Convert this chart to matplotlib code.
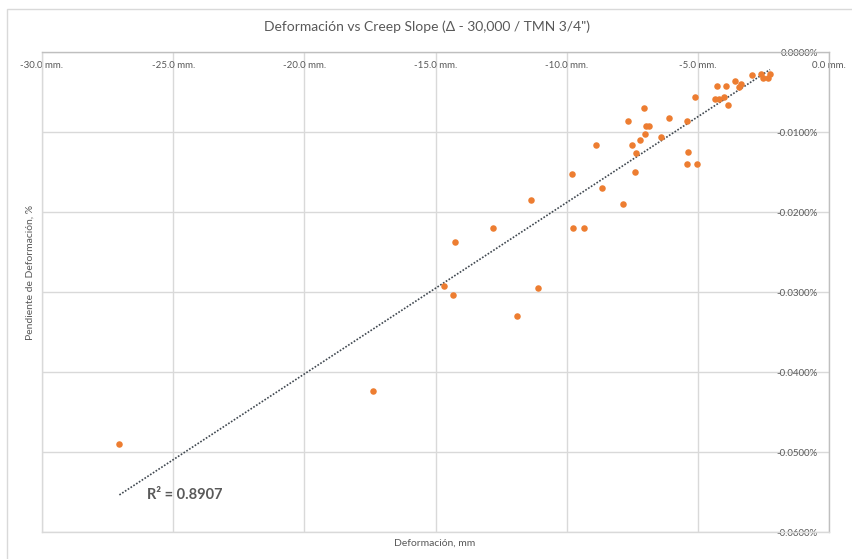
import numpy as np
import matplotlib.pyplot as plt
from matplotlib.patches import Rectangle

plt.rcParams['font.family'] = ['Lato', 'DejaVu Sans']

# deformacion (mm) and creep slope (%)
deform = [-27.05, -17.4, -14.68, -14.34, -14.27, -12.8, -11.88, -11.35, -11.1,
          -9.78, -9.76, -9.35, -8.9, -8.64, -7.86, -7.65, -7.52, -7.40, -7.37,
          -7.20, -7.06, -7.0, -6.98, -6.88, -6.42, -6.1, -5.41, -5.39, -5.42,
          -5.05, -5.10, -4.33, -4.2, -4.02, -4.27, -3.92, -3.84, -3.58, -3.44,
          -3.36, -2.94, -2.60, -2.53, -2.32, -2.25]
slope = [-0.0490, -0.0424, -0.0293, -0.0304, -0.0237, -0.0220, -0.0330, -0.0185,
         -0.0295, -0.0153, -0.0220, -0.0220, -0.0116, -0.0170, -0.0190, -0.0086,
         -0.0116, -0.0150, -0.0126, -0.0110, -0.0070, -0.0103, -0.0093, -0.0093,
         -0.0106, -0.0083, -0.0086, -0.0125, -0.0140, -0.0140, -0.0056, -0.0059,
         -0.0059, -0.0056, -0.0043, -0.0043, -0.0066, -0.0036, -0.0044, -0.0040,
         -0.0029, -0.0027, -0.0032, -0.0032, -0.0027]

x_ticks = [-30, -25, -20, -15, -10, -5, 0]
y_ticks = [-0.06, -0.05, -0.04, -0.03, -0.02, -0.01, 0.0]

grey = '#595959'

fig = plt.figure(figsize=(8.52, 5.59), dpi=100)
ax = fig.add_axes([42/852, 1-532/559, (829-42)/852, (532-52)/559])

# outer chart border
fig.patches.append(Rectangle((7/852, -0.1), 1.2, 1-9/559+0.1, transform=fig.transFigure,
                             fill=False, edgecolor='#d9d9d9', linewidth=1))

ax.scatter(deform, slope, s=22, color='#ED7D31', zorder=3, linewidths=0)

# linear trend
coef = np.polyfit(deform, slope, 1)
xs = np.array([min(deform), max(deform)])
ax.plot(xs, np.polyval(coef, xs), linestyle=(0, (1, 1)), color='#404850',
        linewidth=1.2, zorder=2)

ax.set_xlim(-30, 0)
ax.set_ylim(-0.06, 0)
ax.set_xticks(x_ticks)
ax.set_xticklabels(['%.1f mm.' % v for v in x_ticks])
ax.set_yticks(y_ticks)
ax.set_yticklabels(['%.4f%%' % v for v in y_ticks], ha='right')

ax.tick_params(axis='x', bottom=False, labelbottom=False, top=True, labeltop=True,
               length=0, pad=-13, labelsize=7, labelcolor=grey)
ax.tick_params(axis='y', left=False, labelleft=False, right=True, labelright=True,
               length=0, pad=-8, labelsize=7, labelcolor=grey)
for lbl in ax.get_yticklabels():
    lbl.set_horizontalalignment('right')

ax.grid(True, color='#d9d9d9', linewidth=1)
ax.set_axisbelow(True)
for side in ['left', 'bottom']:
    ax.spines[side].set_color('#d9d9d9')
for side in ['top', 'right']:
    ax.spines[side].set_color('#bfbfbf')
for sp in ax.spines.values():
    sp.set_linewidth(1)

fig.text(427/852, 1-27/559, 'Deformación vs Creep Slope (Δ - 30,000 / TMN 3/4")',
         ha='center', va='center', fontsize=10, color=grey)
fig.text(435/852, 1-543/559, 'Deformación, mm', ha='center', va='center',
         fontsize=7.5, color=grey)
fig.text(30/852, 1-272/559, 'Pendiente de Deformación, %', ha='center', va='center',
         rotation=90, fontsize=7.5, color=grey)
fig.text(147/852, 1-495/559, 'R² = 0.8907', ha='left', va='center',
         fontsize=10.5, fontweight='bold', color=grey)

fig.savefig('out.png', dpi=100)
